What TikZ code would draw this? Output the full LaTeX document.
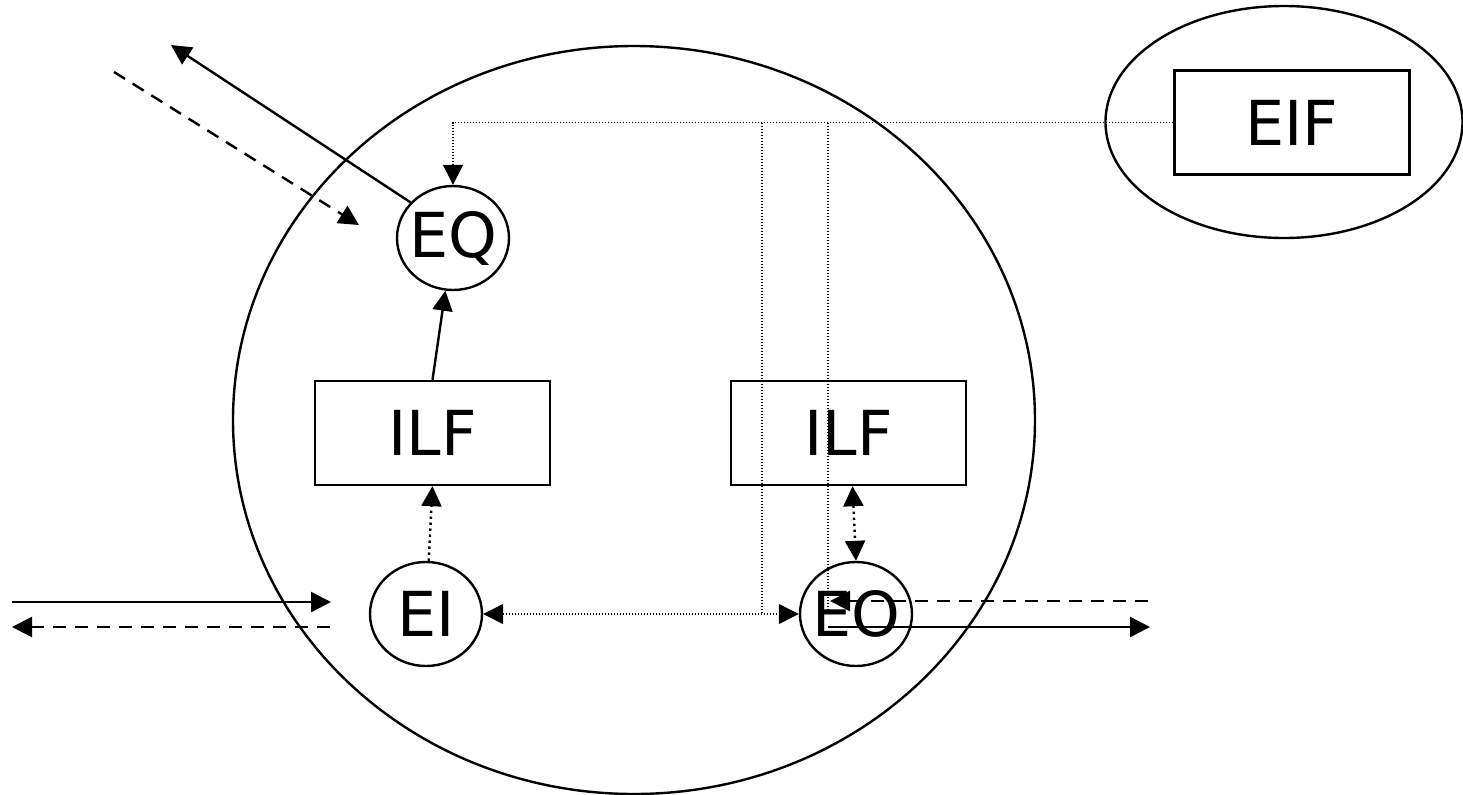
\documentclass[tikz,border=0pt]{standalone}
\usepackage{fontspec}
\setmainfont{DejaVu Sans}
\usetikzlibrary{shapes.geometric,arrows.meta}

\tikzset{
  func/.style={draw, line width=1.2pt, ellipse, minimum width=56pt, minimum height=52pt,
    inner sep=-4pt, font=\fontsize{31pt}{37pt}\selectfont},
  file/.style={draw, line width=1.2pt, rectangle, minimum width=117.5pt, minimum height=52pt,
    font=\fontsize{31pt}{37pt}\selectfont},
  boundary/.style={draw, line width=1.2pt, ellipse, inner sep=0pt},
  flow/.style={line width=1.2pt, ->},
  back/.style={flow, dash pattern=on 6.5pt off 4.5pt},
  dotflow/.style={line width=1.2pt, dash pattern=on 1.2pt off 1.8pt, ->},
  ref/.style={line width=0.6pt, dash pattern=on 0.6pt off 0.9pt}
}

\begin{document}
\begin{tikzpicture}[x=0.5pt, y=-0.5pt, >={Triangle[length=10pt,width=10pt]}]
  \useasboundingbox (0,0) rectangle (1463,794);

  % Define nodes
  \node[boundary, minimum width=401pt, minimum height=374pt] (app) at (634,420) {};
  \node[boundary, minimum width=178.5pt, minimum height=116pt] (ext) at (1284,122) {};
  \node[file] (eif) at (1292,122.5) {EIF};
  \node[func] (eq) at (453,238) {EQ};
  \node[file] (ilfA) at (432.5,433) {ILF};
  \node[file] (ilfB) at (848.5,433) {ILF};
  \node[func] (ei) at (426,614) {EI};
  \node[func] (eo) at (856,614) {EO};

  % Loose ends outside the boundary
  \coordinate (qout) at (171,45);
  \coordinate (qsrc) at (114,72);
  \coordinate (qin) at (359,225);
  \coordinate (inL) at (12,602);
  \coordinate (inR) at (331,602);
  \coordinate (retI) at (330,627);
  \coordinate (retIL) at (12,627);
  \coordinate (retO) at (1148,601);
  \coordinate (retOL) at (830,601);
  \coordinate (sendL) at (828,627);
  \coordinate (sendR) at (1150,627);
  \coordinate (tapA) at (762,122.5);
  \coordinate (tapB) at (828,122.5);

  % Connect the nodes
  \draw[flow] (eq.140) -- (qout);
  \draw[back] (qsrc) -- (qin);
  \draw[flow] (ilfA.north) -- (eq);
  \draw[dotflow] (ei) -- (ilfA.south);
  \draw[flow] (inL) -- (inR);
  \draw[back] (retI) -- (retIL);
  \draw[back] (retO) -- (retOL);
  \draw[flow] (sendL) -- (sendR);
  \draw[dotflow, <->] ([xshift=2pt]ilfB.south) -- (eo.north);

  % Reference lines
  \draw[ref, ->] (eif.west) -| (eq.north);
  \draw[ref] (tapA) -- (tapA |- ei.east);
  \draw[ref] (tapB) -- (tapB |- eo.center);
  \draw[ref, <->] (ei.east) -- (eo.west);
\end{tikzpicture}
\end{document}
